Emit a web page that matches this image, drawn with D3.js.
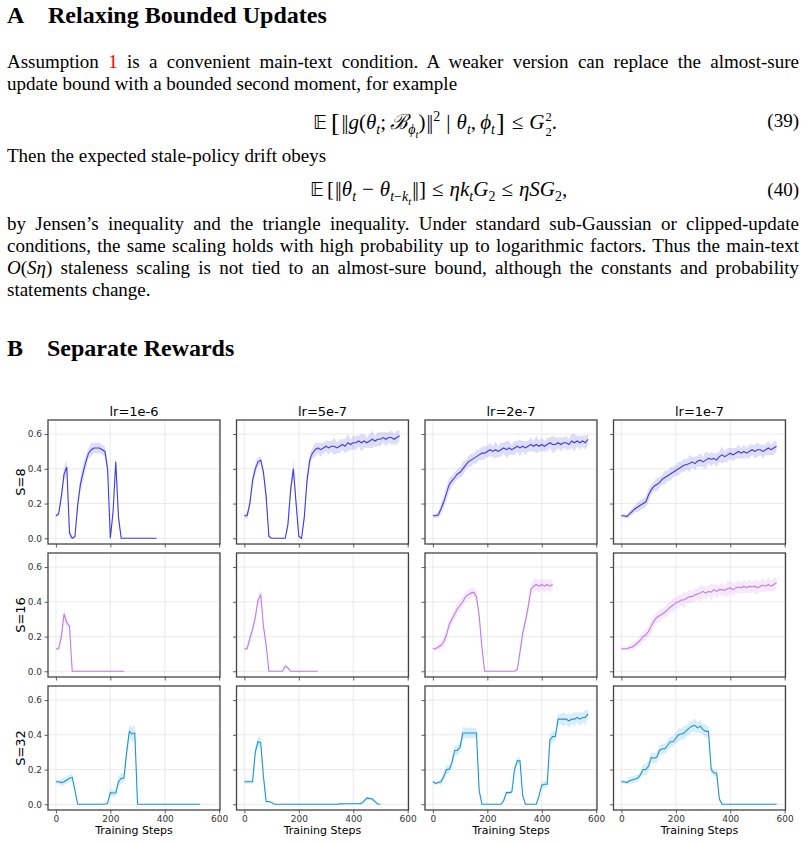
<!DOCTYPE html>
<html>
<head>
<meta charset="utf-8">
<script src="https://cdn.jsdelivr.net/npm/d3@7"></script>
<style>
  body { margin: 0; background: #fff; width: 806px; height: 843px; position: relative; overflow: hidden; }
  #page { position: absolute; left: 0; top: 0; width: 806px; height: 843px; font-family: "Liberation Serif", "Times New Roman", serif; color: #000; }
  .ln { position: absolute; left: 7px; width: 792px; font-size: 19px; line-height: 19px; white-space: nowrap; }
  .hd { position: absolute; font-size: 24px; line-height: 24px; font-weight: bold; white-space: nowrap; }
  .eq { position: absolute; font-size: 21px; line-height: 21px; white-space: nowrap; }
  .num { position: absolute; right: 7px; font-size: 19px; line-height: 19px; }
  .ref { color: #ff0000; }
  i { font-style: italic; }
  sub, sup { font-size: 14px; line-height: 0; }
  sub sub { font-size: 10.5px; }
  .big { font-size: 26px; vertical-align: -2px; margin: 0 1px; }
  .bb { font-family: "DejaVu Sans", serif; font-size: 19px; margin-right: 3px; }
  .nm { letter-spacing: -1.5px; margin: 0 1.5px 0 1px; }
  .th { display: inline-block; margin: 0 6px; }
  .st { display: inline-block; vertical-align: -7px; line-height: 15px; font-size: 12.5px; margin-left: 1px; }
  .st span { display: block; }
  #chart { position: absolute; left: 0; top: 0; }
</style>
</head>
<body>
<div id="page">
  <div class="hd" style="top:3px;left:7px">A</div>
  <div class="hd" style="top:3px;left:48px">Relaxing Bounded Updates</div>
  <div class="ln j" style="top:52px">Assumption <span class="ref">1</span> is a convenient main-text condition. A weaker version can replace the almost-sure</div>
  <div class="ln" style="top:74px">update bound with a bounded second moment, for example</div>
  <div class="eq" style="top:110px;left:313px"><span class="bb">𝔼</span><span class="big">[</span><span class="nm">||</span><i>g</i>(<i>θ</i><sub><i>t</i></sub>;&thinsp;<i>ℬ</i><sub><i>ϕ</i><sub><i>t</i></sub></sub>)<span class="nm">||</span><sup>2</sup><span class="th">|</span><i>θ</i><sub><i>t</i></sub>,&thinsp;<i>ϕ</i><sub><i>t</i></sub><span class="big">]</span><span class="th">≤</span><i>G</i><span class="st"><span>2</span><span>2</span></span>.</div>
  <div class="num" style="top:111px">(39)</div>
  <div class="ln" style="top:146px">Then the expected stale-policy drift obeys</div>
  <div class="eq" style="top:179px;left:310px"><span class="bb">𝔼</span>[<span class="nm">||</span><i>θ</i><sub><i>t</i></sub><span class="th">−</span><i>θ</i><sub><i>t</i>−<i>k</i><sub><i>t</i></sub></sub><span class="nm">||</span>]<span class="th">≤</span><i>ηk</i><sub><i>t</i></sub><i>G</i><sub>2</sub><span class="th">≤</span><i>ηSG</i><sub>2</sub>,</div>
  <div class="num" style="top:180px">(40)</div>
  <div class="ln j" style="top:214px">by Jensen’s inequality and the triangle inequality. Under standard sub-Gaussian or clipped-update</div>
  <div class="ln j" style="top:236px">conditions, the same scaling holds with high probability up to logarithmic factors. Thus the main-text</div>
  <div class="ln j" style="top:258px"><i>O</i>(<i>Sη</i>) staleness scaling is not tied to an almost-sure bound, although the constants and probability</div>
  <div class="ln" style="top:280px">statements change.</div>
  <div class="hd" style="top:336px;left:7px">B</div>
  <div class="hd" style="top:336px;left:47px">Separate Rewards</div>
  <svg id="chart" width="806" height="843"></svg>
</div>
<script>
//Justify full text lines by spreading word spacing
d3.selectAll(".j").each(function() {
  var range = document.createRange();
  range.selectNodeContents(this);
  var w = range.getBoundingClientRect().width;
  var gaps = this.textContent.split(" ").length - 1;
  this.style.wordSpacing = ((792 - w) / gaps) + "px";
});

// grid labels
var lrLabels = ["lr=1e-6", "lr=5e-7", "lr=2e-7", "lr=1e-7"];
var sLabels = ["S=8", "S=16", "S=32"];
var rowColors = ["#3d3de0", "#c27ae6", "#1b95d3"];
var xTicks = [0, 200, 400, 600];
var yTicks = [0, 0.2, 0.4, 0.6];
var STEP = 10; // one value every 10 training steps

// mean reward (smoothed line) and spread of raw values (hundredths), S=8
var s8_lr1e6 = [.13,.14,.24,.37,.41,.03,0,.01,.19,.31,.38,.44,.49,.51,.52,.52,.52,.51,.50,.40,0,.15,.44,.12,0,0,0,0,0,0,0,0,0,0,0,0,0,0];
var s8_lr1e6_sd = [1,1,3,4,4,3,0,1,4,4,5,4,3,4,3,3,3,3,3,5,1,3,4,4,0,0,0,0,0,0,0,0,0,0,0,0,0,0];
var s8_lr5e7 = [.13,.13,.20,.33,.40,.44,.45,.38,.24,.01,0,0,0,0,0,0,.08,.28,.40,.20,.01,0,.12,.33,.45,.49,.51,.52,.51,.52,.53,.52,.53,.53,.52,.53,.54,.53,.55,.54,.55,.55,.56,.55,.56,.55,.56,.57,.56,.57,.57,.58,.57,.58,.58,.57,.58,.59];
var s8_lr5e7_sd = [1,2,3,3,3,3,2,3,4,2,0,0,0,0,0,0,3,4,5,3,1,0,3,4,4,3,4,3,4,3,3,4,3,5,3,4,3,4,5,3,4,4,3,5,4,3,4,5,3,4,4,3,4,3,4,3,4,3];
var s8_lr2e7 = [.13,.13,.135,.17,.21,.26,.31,.33,.35,.37,.38,.40,.42,.44,.45,.46,.47,.48,.49,.49,.50,.51,.50,.51,.50,.51,.52,.51,.52,.51,.52,.53,.52,.53,.52,.53,.54,.53,.54,.53,.54,.53,.54,.55,.54,.54,.55,.54,.55,.55,.54,.56,.55,.56,.55,.56,.55,.57];
var s8_lr2e7_sd = [1,1,2,3,3,4,4,3,3,3,3,4,3,3,4,3,4,3,4,4,3,4,3,5,3,4,3,5,4,3,4,3,5,3,4,3,4,3,5,3,4,3,4,3,5,4,3,4,3,4,3,4,5,3,4,3,4,3];
var s8_lr1e7 = [.13,.13,.125,.14,.155,.17,.18,.19,.20,.21,.25,.28,.30,.31,.32,.34,.35,.36,.37,.38,.39,.40,.41,.42,.425,.43,.44,.43,.445,.45,.44,.45,.46,.455,.46,.45,.47,.48,.47,.48,.49,.48,.49,.50,.49,.50,.49,.50,.51,.50,.51,.51,.50,.51,.52,.51,.52,.53];
var s8_lr1e7_sd = [1,1,1,2,2,2,3,3,3,3,4,3,3,4,3,3,4,3,4,3,3,4,3,4,3,5,3,4,3,4,3,5,3,4,3,4,3,5,3,4,3,4,3,4,3,4,3,4,3,4,4,3,4,3,4,3,4,3];

// S=16
var s16_lr1e6 = [.13,.13,.20,.33,.28,.26,0,0,0,0,0,0,0,0,0,0,0,0,0,0,0,0,0,0,0,0];
var s16_lr1e6_sd = [1,1,3,3,3,2,0,0,0,0,0,0,0,0,0,0,0,0,0,0,0,0,0,0,0,0];
var s16_lr5e7 = [.13,.13,.19,.24,.31,.41,.44,.26,.15,0,0,0,0,0,0,.03,.02,0,0,0,0,0,0,0,0,0,0,0];
var s16_lr5e7_sd = [1,1,3,3,3,3,3,3,2,0,0,0,0,0,0,1,1,0,0,0,0,0,0,0,0,0,0,0];
var s16_lr2e7 = [.13,.13,.14,.15,.17,.21,.27,.30,.33,.36,.38,.40,.43,.44,.45,.455,.43,.32,.14,0,0,0,0,0,0,0,0,0,0,0,0,.01,.11,.22,.29,.37,.47,.49,.50,.49,.50,.49,.50,.49,.50];
var s16_lr2e7_sd = [1,1,2,2,3,3,3,3,3,3,3,3,3,3,3,3,3,3,2,0,0,0,0,0,0,0,0,0,0,0,0,1,2,3,3,4,3,4,3,4,3,4,3,4,3];
var s16_lr1e7 = [.13,.13,.13,.135,.14,.15,.165,.18,.20,.21,.23,.26,.29,.31,.32,.33,.34,.355,.37,.38,.395,.40,.41,.41,.42,.43,.43,.44,.445,.45,.46,.45,.46,.455,.47,.46,.47,.47,.465,.475,.48,.47,.48,.485,.48,.49,.48,.49,.485,.49,.48,.49,.495,.49,.50,.49,.50,.51];
var s16_lr1e7_sd = [1,1,1,2,2,2,2,3,3,3,3,4,3,3,4,3,3,4,3,4,3,4,3,5,3,4,3,4,3,5,3,4,3,5,3,4,3,4,3,5,3,4,3,4,3,4,3,4,3,4,4,3,4,3,4,3,4,3];

// S=32
var s32_lr1e6 = [.13,.13,.125,.13,.14,.15,.155,.08,0,0,0,0,0,0,0,0,0,0,0,.005,.067,.065,.065,.13,.15,.15,.30,.42,.405,.41,0,0,0,0,0,0,0,0,0,0,0,0,0,0,0,0,0,0,0,0,0,0,0,0];
var s32_lr1e6_sd = [1,1,2,2,2,2,2,1,0,0,0,0,0,0,0,0,0,0,0,1,2,2,2,3,3,3,4,4,4,5,0,0,0,0,0,0,0,0,0,0,0,0,0,0,0,0,0,0,0,0,0,0,0,0];
var s32_lr5e7 = [.13,.13,.13,.13,.30,.36,.355,.16,.015,.015,.01,0,0,0,0,0,0,0,0,0,0,0,0,0,0,0,0,0,0,0,0,0,0,0,0,.002,.002,.003,.003,.003,.003,.003,.003,.005,.02,.035,.033,.03,.015,.002,0];
var s32_lr5e7_sd = [1,1,1,1,3,3,3,2,0,0,0,0,0,0,0,0,0,0,0,0,0,0,0,0,0,0,0,0,0,0,0,0,0,0,0,0,0,0,0,0,0,0,0,0,1,1,1,1,1,0,0];
var s32_lr2e7 = [.13,.12,.125,.13,.16,.20,.20,.24,.31,.31,.33,.41,.41,.41,.41,.41,.41,.08,0,0,0,0,0,0,0,0,.02,.067,.067,.07,.20,.25,.25,.05,0,0,0,0,0,.05,.11,.115,.115,.37,.39,.39,.49,.49,.49,.49,.48,.49,.49,.50,.49,.50,.50,.52];
var s32_lr2e7_sd = [1,1,1,2,2,3,2,3,3,3,3,4,3,3,3,3,3,2,0,0,0,0,0,0,0,0,1,1,1,1,2,2,2,1,0,0,0,0,0,1,2,2,2,3,3,3,3,3,4,3,4,3,4,3,4,3,4,3];
var s32_lr1e7 = [.13,.13,.125,.135,.14,.145,.15,.17,.20,.20,.22,.27,.265,.27,.31,.32,.32,.34,.36,.36,.38,.40,.405,.41,.425,.44,.45,.455,.44,.45,.43,.42,.42,.20,.18,.18,.03,0,0,0,0,0,0,0,0,0,0,0,0,0,0,0,0,0,0,0,0,0];
var s32_lr1e7_sd = [1,1,1,2,2,2,2,2,3,3,3,3,3,3,3,3,3,3,3,3,3,4,3,4,3,4,3,4,3,4,3,4,3,2,2,2,1,0,0,0,0,0,0,0,0,0,0,0,0,0,0,0,0,0,0,0,0,0];

var grid = [
  [[s8_lr1e6, s8_lr1e6_sd], [s8_lr5e7, s8_lr5e7_sd], [s8_lr2e7, s8_lr2e7_sd], [s8_lr1e7, s8_lr1e7_sd]],
  [[s16_lr1e6, s16_lr1e6_sd], [s16_lr5e7, s16_lr5e7_sd], [s16_lr2e7, s16_lr2e7_sd], [s16_lr1e7, s16_lr1e7_sd]],
  [[s32_lr1e6, s32_lr1e6_sd], [s32_lr5e7, s32_lr5e7_sd], [s32_lr2e7, s32_lr2e7_sd], [s32_lr1e7, s32_lr1e7_sd]]
];

var left0 = 48, colStep = 188.5, top0 = 420, rowStep = 133,
pw = 172, ph = 124;

var svg = d3.select("#chart");

var xScale = d3.scaleLinear().domain([-29, 603]).range([0, pw]);
var yScale = d3.scaleLinear().domain([-0.033, 0.681]).range([ph, 0]);

var line = d3.line()
  .x(function(d) { return xScale(d.step); })
  .y(function(d) { return yScale(d.m); });

var area = d3.area()
  .x(function(d) { return xScale(d.step); })
  .y0(function(d) { return yScale(Math.max(0, d.m - d.s)); })
  .y1(function(d) { return yScale(d.m + d.s); });

grid.forEach(function(row, r) {
  row.forEach(function(cell, c) {
    var pts = cell[0].map(function(v, i) {
      return { step: i * STEP, m: v, s: cell[1][i] / 100 };
    });

    var g = svg.append("g")
      .attr("transform", "translate(" + (left0 + c * colStep) + "," + (top0 + r * rowStep) + ")");

    //gridlines
    g.selectAll(".gx").data(xTicks).enter().append("line")
      .attr("x1", function(d) { return xScale(d); })
      .attr("x2", function(d) { return xScale(d); })
      .attr("y1", 0).attr("y2", ph)
      .attr("stroke", "#e8e8e8").attr("stroke-width", 0.9);
    g.selectAll(".gy").data(yTicks).enter().append("line")
      .attr("y1", function(d) { return yScale(d); })
      .attr("y2", function(d) { return yScale(d); })
      .attr("x1", 0).attr("x2", pw)
      .attr("stroke", "#e8e8e8").attr("stroke-width", 0.9);

    //raw spread and smoothed line
    g.append("path").datum(pts)
      .attr("d", area)
      .attr("fill", rowColors[r])
      .attr("fill-opacity", 0.17);
    g.append("path").datum(pts)
      .attr("d", line)
      .attr("fill", "none")
      .attr("stroke", rowColors[r])
      .attr("stroke-width", 1.1);

    //axes
    var xAxis = d3.axisBottom(xScale).tickValues(xTicks).tickSize(3.5).tickPadding(2)
      .tickFormat(r == 2 ? d3.format("d") : "");
    var yAxis = d3.axisLeft(yScale).tickValues(yTicks).tickSize(3.5).tickPadding(2.5)
      .tickFormat(c == 0 ? d3.format(".1f") : "");

    var ax = g.append("g").attr("transform", "translate(0," + ph + ")").call(xAxis);
    var ay = g.append("g").call(yAxis);
    [ax, ay].forEach(function(a) {
      a.select(".domain").remove();
      a.selectAll("line").attr("stroke", "#333").attr("stroke-width", 0.8);
      a.selectAll("text").attr("fill", "#333")
        .style("font-family", "DejaVu Sans").style("font-size", "9px");
    });

    //frame
    g.append("rect")
      .attr("width", pw).attr("height", ph)
      .attr("fill", "none")
      .attr("stroke", "#444")
      .attr("stroke-width", 1.3);

    if (r == 0) {
      g.append("text")
        .attr("x", pw / 2).attr("y", -4)
        .attr("text-anchor", "middle")
        .style("font-family", "DejaVu Sans").style("font-size", "13px")
        .text(lrLabels[c]);
    }
    if (r == 2) {
      g.append("text")
        .attr("x", pw / 2).attr("y", ph + 24)
        .attr("text-anchor", "middle")
        .style("font-family", "DejaVu Sans").style("font-size", "11px")
        .text("Training Steps");
    }
    if (c == 0) {
      g.append("text")
        .attr("transform", "translate(-23," + (ph / 2) + ") rotate(-90)")
        .attr("text-anchor", "middle")
        .style("font-family", "DejaVu Sans").style("font-size", "13px")
        .text(sLabels[r]);
    }
  });
});
</script>
</body>
</html>
